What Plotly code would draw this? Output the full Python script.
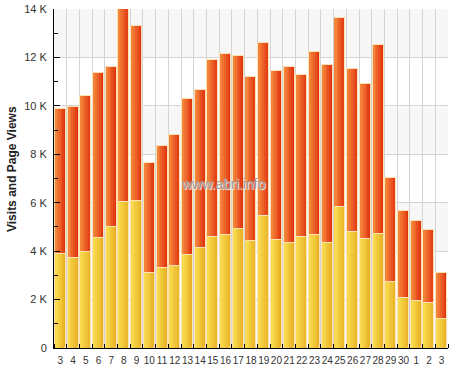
import plotly.graph_objects as go

# ---- data ----
day_labels = ["3", "4", "5", "6", "7", "8", "9", "10", "11", "12", "13", "14", "15", "16", "17",
              "18", "19", "20", "21", "22", "23", "24", "25", "26", "27", "28", "29", "30", "1", "2", "3"]
page_views = [9870, 9950, 10410, 11360, 11600, 14000, 13300, 7640, 8340, 8800, 10280, 10660, 11890,
              12140, 12060, 11190, 12600, 11440, 11600, 11270, 12220, 11690, 13630, 11520, 10900,
              12510, 7020, 5660, 5250, 4870, 3100]
visits = [3880, 3720, 3960, 4540, 5000, 6030, 6070, 3110, 3300, 3390, 3840, 4130, 4580, 4670, 4910,
          4420, 5450, 4460, 4350, 4580, 4670, 4350, 5820, 4790, 4500, 4720, 2730, 2070, 1940, 1860, 1200]
y_tick_values = [0, 2000, 4000, 6000, 8000, 10000, 12000, 14000]
y_tick_labels = ["0", "2 K", "4 K", "6 K", "8 K", "10 K", "12 K", "14 K"]

x = list(range(len(day_labels)))

FONT = "Liberation Sans, Arial, sans-serif"
W = 0.86
OUTLINE = "#fde2b4"

def mix(c1, c2, t):
    a = [int(c1[i:i + 2], 16) for i in (1, 3, 5)]
    b = [int(c2[i:i + 2], 16) for i in (1, 3, 5)]
    return "#%02x%02x%02x" % tuple(round(a[j] + (b[j] - a[j]) * t) for j in range(3))

fig = go.Figure()

def gradient_bars(values, light, dark, name):
    K = 6
    fig.add_trace(go.Bar(x=x, y=values, width=W, offset=-W / 2, name=name,
                         marker=dict(color=dark, line=dict(color=OUTLINE, width=1)),
                         showlegend=False, hoverinfo="skip", cliponaxis=False))
    for k in range(1, K):
        frac = (K - k) / K
        col = mix(dark, light, k / (K - 1))
        fig.add_trace(go.Bar(x=x, y=values, width=W * frac - 0.02, offset=-W / 2 + 0.035,
                             marker=dict(color=col, line=dict(width=0)),
                             showlegend=False, hoverinfo="skip", cliponaxis=False))

gradient_bars(page_views, "#f4843a", "#e0300e", "Page Views")
gradient_bars(visits, "#f9da4e", "#e8b022", "Visits")

shapes = []
for lo in (0, 4000, 8000, 12000):
    shapes.append(dict(type="rect", xref="paper", yref="y", x0=0, x1=1, y0=lo, y1=lo + 2000,
                       fillcolor="#f7f7f7", line=dict(width=0), layer="below"))

fig.update_layout(
    width=452, height=368,
    margin=dict(l=54, r=4, t=9, b=20, autoexpand=False),
    paper_bgcolor="white", plot_bgcolor="white",
    barmode="overlay", bargap=0,
    shapes=shapes,
    font=dict(family=FONT, size=11, color="#333333"),
    xaxis=dict(
        range=[-0.5, len(x) - 0.5], autorange=False,
        tickmode="array", tickvals=x, ticktext=day_labels,
        tickangle=0, automargin=False,
        showgrid=False, ticks="", zeroline=False,
        showline=True, linecolor="#000000", linewidth=1,
        tickfont=dict(size=10, color="#333333"),
        ticklabelstandoff=3,
        minor=dict(tick0=-0.5, dtick=1, showgrid=True, gridcolor="#d4d4d4", gridwidth=1,
                   ticks="inside", ticklen=4, tickcolor="#000000"),
    ),
    yaxis=dict(
        range=[0, 14000], autorange=False, automargin=False,
        tickmode="array", tickvals=y_tick_values, ticktext=y_tick_labels,
        showgrid=True, gridcolor="#d4d4d4", gridwidth=1,
        ticks="inside", ticklen=6, tickcolor="#000000",
        showline=True, linecolor="#000000", linewidth=1, zeroline=False,
        tickfont=dict(size=11, color="#333333"),
        ticklabelstandoff=4,
        minor=dict(dtick=1000, tick0=0, ticks="inside", ticklen=4, tickcolor="#000000", showgrid=False),
    ),
    annotations=[
        dict(text="<b>Visits and Page Views</b>", xref="paper", yref="paper",
             x=(12 - 54) / 394, y=(348 - 169) / 339, textangle=-90,
             xanchor="center", yanchor="middle", showarrow=False,
             font=dict(family=FONT, size=12, color="#222222")),
        dict(text="www.abri.info", xref="paper", yref="paper",
             x=(223 - 54) / 394, y=(348 - 184) / 339, xanchor="center", yanchor="middle",
             showarrow=False,
             font=dict(family=FONT, size=14, color="#9a9a9a", shadow="1px 1px 1px #ffffff")),
    ],
)

fig.write_html("out.html", config={"displayModeBar": False},
               post_script="document.body.style.margin='0';")
